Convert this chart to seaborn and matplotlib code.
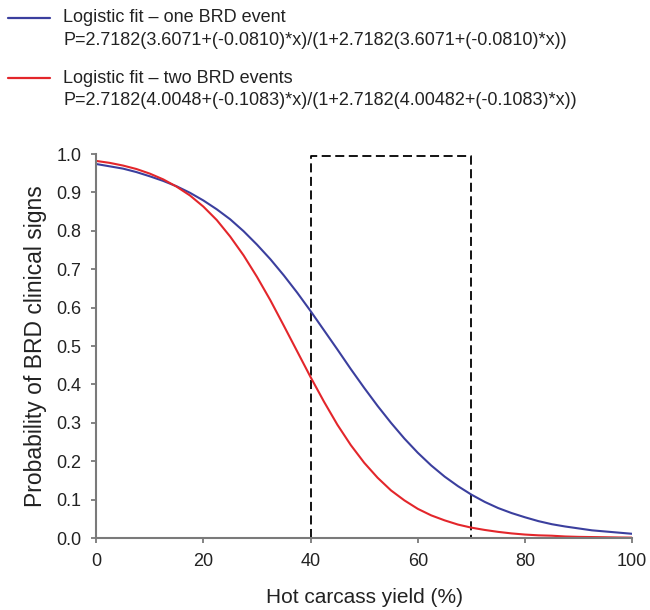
import matplotlib
matplotlib.use('Agg')
import pandas as pd
import matplotlib.pyplot as plt
from matplotlib.lines import Line2D
import seaborn as sns

# valori
yield_pct = [0, 2.5, 5, 7.5, 10, 12.5, 15, 17.5, 20, 22.5, 25, 27.5, 30, 32.5, 35, 37.5,
             40, 42.5, 45, 47.5, 50, 52.5, 55, 57.5, 60, 62.5, 65, 67.5, 70, 72.5, 75,
             77.5, 80, 82.5, 85, 87.5, 90, 92.5, 95, 97.5, 100]
p_one = [0.974, 0.968, 0.962, 0.953, 0.942, 0.930, 0.916, 0.899, 0.879, 0.856, 0.830,
         0.799, 0.764, 0.726, 0.684, 0.639, 0.591, 0.541, 0.491, 0.440, 0.391, 0.344,
         0.300, 0.259, 0.222, 0.189, 0.160, 0.135, 0.113, 0.094, 0.078, 0.065, 0.054,
         0.044, 0.036, 0.030, 0.025, 0.020, 0.017, 0.014, 0.011]
p_two = [0.982, 0.977, 0.970, 0.961, 0.949, 0.934, 0.915, 0.892, 0.863, 0.828, 0.785,
         0.736, 0.680, 0.619, 0.553, 0.486, 0.419, 0.355, 0.295, 0.242, 0.196, 0.157,
         0.124, 0.098, 0.076, 0.059, 0.046, 0.035, 0.027, 0.021, 0.016, 0.012, 0.009,
         0.007, 0.006, 0.004, 0.003, 0.0025, 0.002, 0.0014, 0.001]
window_x = [40, 70]
window_top = 0.995

lab_one = "Logistic fit \u2013 one BRD event"
eq_one = "P=2.7182(3.6071+(-0.0810)*x)/(1+2.7182(3.6071+(-0.0810)*x))"
lab_two = "Logistic fit \u2013 two BRD events"
eq_two = "P=2.7182(4.0048+(-0.1083)*x)/(1+2.7182(4.00482+(-0.1083)*x))"

blue = "#3b3f9e"
red = "#e3262b"

df = pd.DataFrame({"x": yield_pct + yield_pct,
                   "p": p_one + p_two,
                   "fit": [lab_one] * len(yield_pct) + [lab_two] * len(yield_pct)})

sns.set_style("ticks")
plt.rcParams['font.family'] = ['Liberation Sans', 'DejaVu Sans']

fig = plt.figure(figsize=(6.5, 6.1), dpi=100)
ax = fig.add_axes([0.148, 0.118, 0.8246, 0.6295])

sns.lineplot(data=df, x="x", y="p", hue="fit", palette=[blue, red],
             linewidth=1.5, legend=False, ax=ax)

# riquadro tratteggiato
x0, x1 = window_x
ax.plot([x0, x0, x1, x1], [0, window_top, window_top, 0], color="black",
        linestyle=(0, (5, 2.5)), linewidth=1.3, zorder=1, clip_on=False)

ax.set_xlim(0, 100)
ax.set_ylim(0, 1.0)
ax.set_xticks(range(0, 101, 20))
ax.set_yticks([i / 10 for i in range(11)])
ax.set_yticklabels([f"{i / 10:.1f}" for i in range(11)])
ax.tick_params(colors="#7a7a7a", labelcolor="#222222", labelsize=13,
               length=3.5, width=1.3, direction="out", pad=7)
for s in ["left", "bottom"]:
    ax.spines[s].set_color("#7a7a7a")
    ax.spines[s].set_linewidth(1.5)
sns.despine(ax=ax)
ax.set_xlabel("Hot carcass yield (%)", fontsize=15, color="#222222", labelpad=13)
ax.set_ylabel("Probability of BRD clinical signs", fontsize=16.5, color="#222222", labelpad=7)

# legenda in alto
for ly, col, lab, eq in [(0.9705, blue, lab_one, eq_one), (0.872, red, lab_two, eq_two)]:
    fig.add_artist(Line2D([0.012, 0.077], [ly, ly], color=col, linewidth=1.6,
                          transform=fig.transFigure))
    fig.text(0.097, ly, lab, fontsize=13, color="#222222", va="center", ha="left")
    fig.text(0.097, ly - 0.037, eq, fontsize=13, color="#222222", va="center", ha="left")

plt.savefig("out.png", dpi=100)
